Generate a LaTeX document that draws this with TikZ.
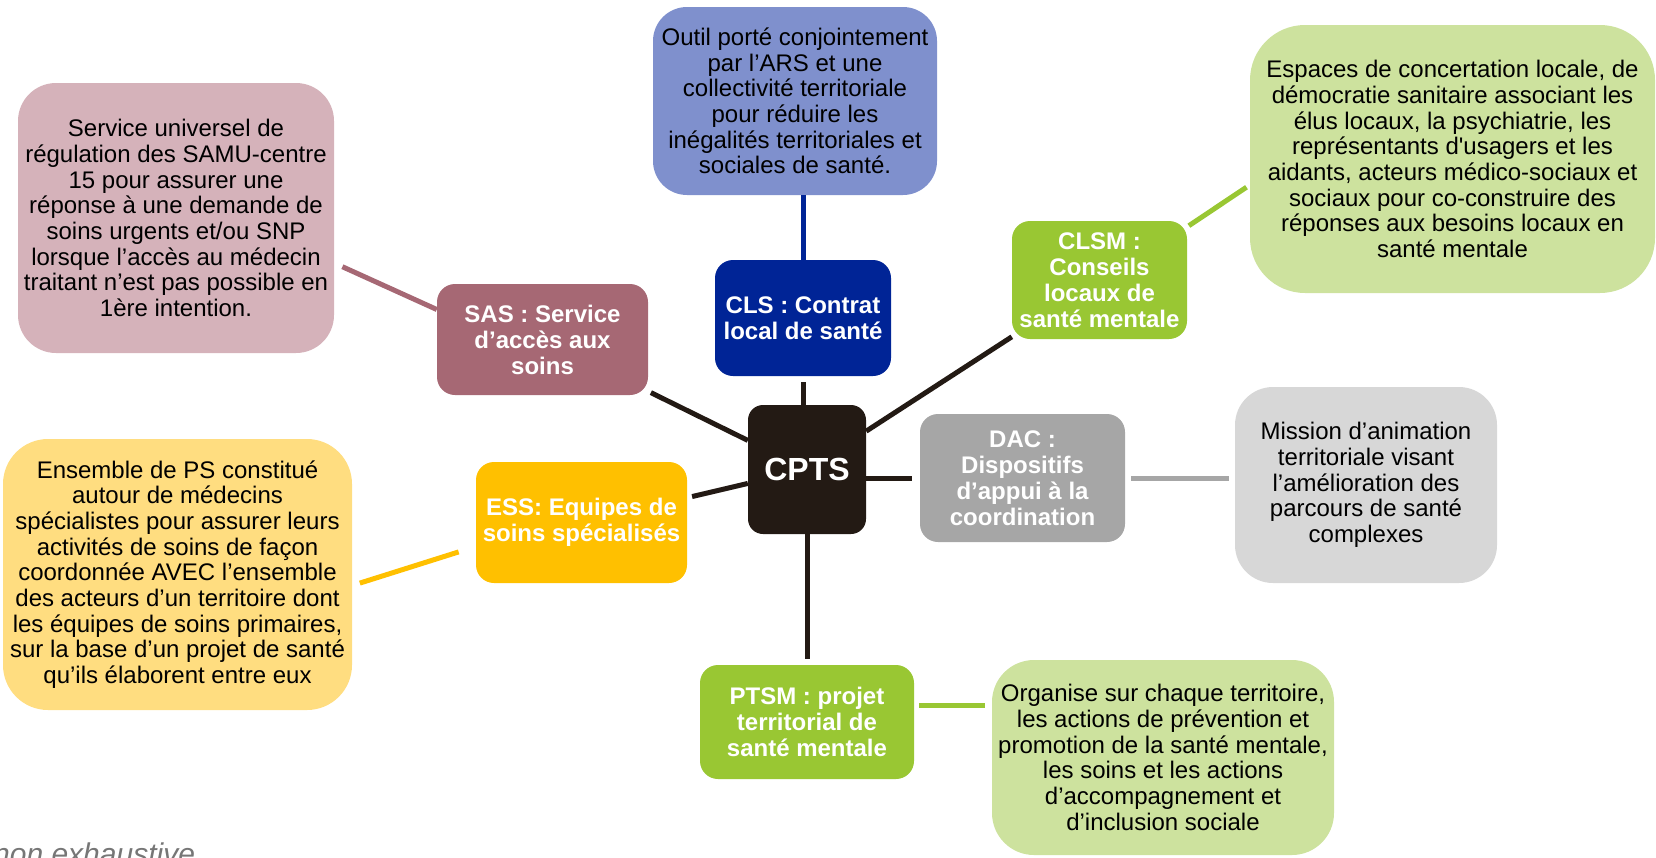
\documentclass[tikz,border=0pt]{standalone}
\usepackage{fontspec}
\setmainfont{Liberation Sans}
\newfontfamily\droit{Liberation Sans}
\definecolor{cptsbrun}{RGB}{35,26,20}
\definecolor{clsbleu}{RGB}{0,36,150}
\definecolor{clsclair}{RGB}{127,144,205}
\definecolor{sasmauve}{RGB}{166,104,116}
\definecolor{sasclair}{RGB}{213,178,186}
\definecolor{vertfonce}{RGB}{153,199,51}
\definecolor{vertclair}{RGB}{205,226,158}
\definecolor{dacgris}{RGB}{166,166,166}
\definecolor{dacclair}{RGB}{215,215,215}
\definecolor{essjaune}{RGB}{255,192,0}
\definecolor{essclair}{RGB}{255,221,128}

\begin{document}
\begin{tikzpicture}[x=1pt,y=-1pt,
    sigle/.style={fill=#1, rounded corners=18pt, inner sep=0pt, align=center, text=white,
        font=\fontsize{24}{26}\selectfont\bfseries},
    texte/.style={fill=#1, rounded corners=38pt, inner sep=0pt, align=center,
        font=\fontsize{24}{25.7}\selectfont},
    lien/.style={line width=5pt, draw=cptsbrun}]
            \useasboundingbox (0,0) rectangle (1656,857);
            \node[sigle=cptsbrun, rounded corners=15pt, minimum width=118pt, minimum height=129pt,
                font=\fontsize{32}{36}\selectfont\bfseries] (cpts) at (807,469.5) {CPTS};
            \node[sigle=clsbleu, minimum width=176pt, minimum height=116pt] (cls) at (803,318) {CLS : Contrat\\local de santé};
            \node[sigle=sasmauve, minimum width=211pt, minimum height=111pt] (sas) at (542.5,339.5) {SAS : Service\\d’accès aux\\soins};
            \node[sigle=vertfonce, minimum width=175pt, minimum height=118pt] (clsm) at (1099.5,280) {CLSM :\\Conseils\\locaux de\\santé mentale};
            \node[sigle=dacgris, minimum width=205pt, minimum height=128pt] (dac) at (1022.5,478) {DAC :\\Dispositifs\\d’appui à la\\coordination};
            \node[sigle=essjaune, minimum width=211pt, minimum height=121pt] (ess) at (581.5,522.5) {ESS: Equipes de\\soins spécialisés};
            \node[sigle=vertfonce, minimum width=214pt, minimum height=114pt] (ptsm) at (807,722) {PTSM : projet\\territorial de\\santé mentale};
            \node[texte=clsclair, rounded corners=34pt, minimum width=284pt, minimum height=188pt] (clsdesc) at (795,101)
                {Outil porté conjointement\\par l’ARS et une\\collectivité territoriale\\pour réduire les\\inégalités territoriales et\\sociales de santé.};
            \node[texte=sasclair, minimum width=316pt, minimum height=270pt] (sasdesc) at (176,218)
                {Service universel de\\régulation des SAMU-centre\\15 pour assurer une\\réponse à une demande de\\soins urgents et/ou SNP\\lorsque l’accès au médecin\\traitant n’est pas possible en\\1ère intention.};
            \node[texte=vertclair, rounded corners=55pt, minimum width=405pt, minimum height=268pt] (clsmdesc) at (1452.5,159)
                {Espaces de concertation locale, de\\démocratie sanitaire associant les\\élus locaux, la psychiatrie, les\\représentants d{\droit'}usagers et les\\aidants, acteurs médico-sociaux et\\sociaux pour co-construire des\\réponses aux besoins locaux en\\santé mentale};
            \node[texte=dacclair, minimum width=262pt, minimum height=196pt] (dacdesc) at (1366,485)
                {Mission d’animation\\territoriale visant\\l’amélioration des\\parcours de santé\\complexes};
            \node[texte=essclair, rounded corners=45pt, minimum width=349pt, minimum height=271pt] (essdesc) at (177.5,574.5)
                {Ensemble de PS constitué\\autour de médecins\\spécialistes pour assurer leurs\\activités de soins de façon\\coordonnée AVEC l’ensemble\\des acteurs d’un territoire dont\\les équipes de soins primaires,\\sur la base d’un projet de santé\\qu’ils élaborent entre eux};
            \node[texte=vertclair, rounded corners=42pt, minimum width=342pt, minimum height=195pt] (ptsmdesc) at (1163,757.5)
                {Organise sur chaque territoire,\\les actions de prévention et\\promotion de la santé mentale,\\les soins et les actions\\d’accompagnement et\\d’inclusion sociale};
            \node[anchor=base west, inner sep=0pt, text={rgb,255:red,118;green,118;blue,118},
                font=\fontsize{30}{32}\selectfont\itshape] (note) at (-7,864) {non exhaustive};
            \draw[lien, shorten <=6pt] (cls.south) -- (cls.south |- cpts.north);
            \draw[lien, shorten >=3pt] (cpts) -- (sas);
            \draw[lien, shorten >=5pt] (cpts) -- (ess);
            \draw[lien] (cpts) -- (clsm);
            \draw[lien, shorten >=8pt] (cpts.east |- dac.west) -- (dac.west);
            \draw[lien, shorten >=6pt] (cpts.south) -- (cpts.south |- ptsm.north);
            \draw[lien, draw=clsbleu] (cls.north) -- (cls.north |- clsdesc.south);
            \draw[lien, draw=sasmauve, shorten <=9pt] ([yshift=-45pt]sasdesc.east) -- ([yshift=30pt]sas.west);
            \draw[lien, draw=essjaune, shorten <=8pt, shorten >=18pt] ([yshift=-11pt]essdesc.east) -- ([yshift=-24pt]ess.west);
            \draw[lien, draw=vertfonce, shorten <=2pt, shorten >=4pt] ([yshift=-6pt]clsm.north east) -- ([yshift=-26pt]clsmdesc.west);
            \draw[lien, draw=dacgris, shorten <=6pt, shorten >=6pt] (dac.east) -- (dac.east -| dacdesc.west);
            \coordinate (ptsmlien) at ([yshift=17pt]ptsm.east);
            \draw[lien, draw=vertfonce, shorten <=5pt, shorten >=7pt] (ptsmlien) -- (ptsmlien -| ptsmdesc.west);
        \end{tikzpicture}
\end{document}
